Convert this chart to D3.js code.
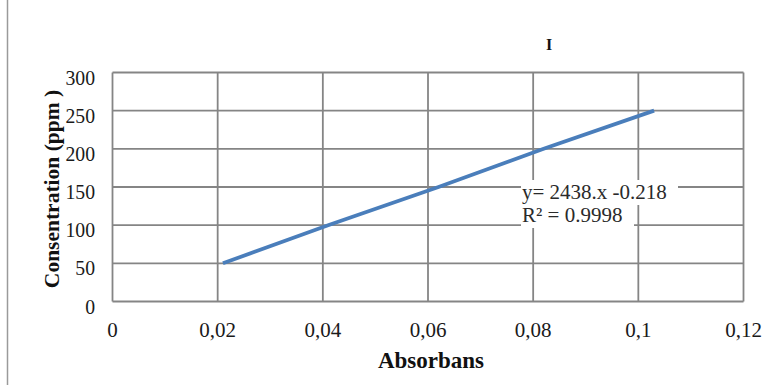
<!DOCTYPE html>
<html><head><meta charset="utf-8">
<script src="https://cdn.jsdelivr.net/npm/d3@7"></script>
<style>body{margin:0;background:#fff}svg{display:block}text{font-family:"Liberation Serif","Times New Roman",serif}</style>
</head><body>
<svg id="c" width="775" height="385"></svg>
<script>
const absorbance = [0.021, 0.041, 0.062, 0.082, 0.103];
const concentration = [50, 100, 150, 200, 250];
const xTicks = [0, 0.02, 0.04, 0.06, 0.08, 0.1, 0.12];
const xTickLabels = ["0", "0,02", "0,04", "0,06", "0,08", "0,1", "0,12"];
const yTicks = [0, 50, 100, 150, 200, 250, 300];
const equationLines = ["y= 2438.x -0.218", "R\u00b2 = 0.9998"];

const svg = d3.select("#c");
const x = d3.scaleLinear().domain([0, 0.12]).range([112.5, 743.5]);
const y = d3.scaleLinear().domain([0, 300]).range([301.5, 72.5]);
const grid = "#858585";

// left border
svg.append("line").attr("x1", 7.5).attr("x2", 7.5).attr("y1", 0).attr("y2", 385)
  .attr("stroke", "#9a9a9a").attr("stroke-width", 1.5);

const g = svg.append("g");
g.selectAll(".vg").data(xTicks).join("line")
  .attr("x1", d => x(d)).attr("x2", d => x(d)).attr("y1", y(300)).attr("y2", y(0))
  .attr("stroke", grid).attr("stroke-width", 1.8);
g.selectAll(".hg").data(yTicks).join("line")
  .attr("x1", x(0)).attr("x2", x(0.12)).attr("y1", d => y(d)).attr("y2", d => y(d))
  .attr("stroke", grid).attr("stroke-width", 1.8);

// data line
const pts = absorbance.map((a, i) => [a, concentration[i]]);
g.append("path").datum(pts)
  .attr("d", d3.line().x(d => x(d[0])).y(d => y(d[1])))
  .attr("fill", "none").attr("stroke", "#4a7ebb").attr("stroke-width", 3.8);

// tick labels
g.selectAll(".yl").data(yTicks).join("text")
  .attr("transform", d => `translate(95,${y(d) + 12}) scale(0.94,1)`)
  .attr("text-anchor", "end")
  .attr("font-size", 21).attr("fill", "#1a1a1a").text(d => d);
g.selectAll(".xl").data(xTicks).join("text")
  .attr("x", d => x(d)).attr("y", 337).attr("text-anchor", "middle")
  .attr("font-size", 21).attr("fill", "#1a1a1a").text((d, i) => xTickLabels[i]);

// axis titles
svg.append("text").attr("x", 431).attr("y", 368).attr("text-anchor", "middle")
  .attr("font-size", 23).attr("font-weight", "bold").attr("fill", "#111").text("Absorbans");
svg.append("text").attr("transform", "translate(59,189) rotate(-90)").attr("text-anchor", "middle")
  .attr("font-size", 21.5).attr("font-weight", "bold").attr("fill", "#111").text("Consentration (ppm )");
svg.append("text").attr("x", 549).attr("y", 50).attr("text-anchor", "middle")
  .attr("font-size", 16).attr("font-weight", "bold").attr("fill", "#111").text("I");

// equation label
const eq = svg.append("g");
eq.append("rect").attr("x", 521).attr("y", 180).attr("width", 157).attr("height", 25).attr("fill", "#fff");
eq.append("rect").attr("x", 521).attr("y", 205).attr("width", 113).attr("height", 23).attr("fill", "#fff");
eq.selectAll("text").data(equationLines).join("text")
  .attr("x", 522).attr("y", (d, i) => 199 + i * 23)
  .attr("font-size", 21).attr("fill", "#2a2a2a").text(d => d);
</script>
</body></html>
